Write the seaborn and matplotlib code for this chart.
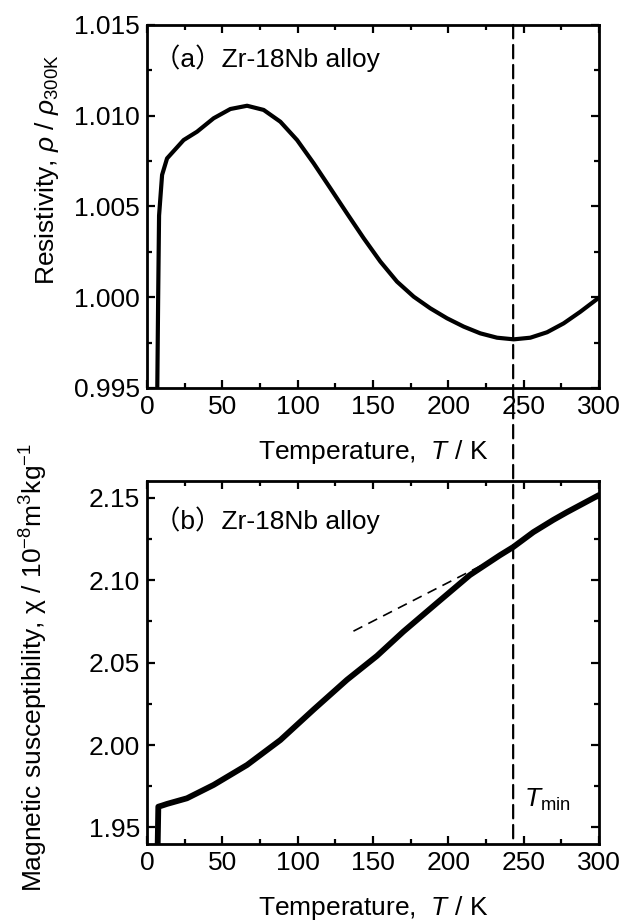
"""
Zr-18Nb alloy: resistivity and magnetic susceptibility vs temperature.
Two stacked panels sharing the T_min marker.
"""

import numpy as np
import pandas as pd
import matplotlib
matplotlib.use("Agg")
import matplotlib.pyplot as plt
from matplotlib.patches import ConnectionPatch
import seaborn as sns

# ==============================================================================
# DATA
# ==============================================================================

# (a) normalised resistivity
temp_a = [6.7, 7.4, 8.0, 10.0, 13.3, 24.3, 33.2, 44.2, 55.3, 66.4, 77.4, 88.5,
          99.6, 110.6, 121.7, 132.7, 143.8, 154.9, 165.9, 177.0, 188.0, 199.1,
          210.2, 221.2, 232.3, 243.4, 254.4, 265.5, 276.5, 287.6, 300.0]
rho_a = [0.994, 1.0000, 1.0045, 1.00674, 1.00765, 1.00866, 1.00912, 1.00986,
         1.01037, 1.01055, 1.01032, 1.00967, 1.00866, 1.00738, 1.00600, 1.00462,
         1.00325, 1.00196, 1.00086, 1.00003, 0.99939, 0.99884, 0.99838, 0.99801,
         0.99777, 0.99768, 0.99777, 0.99807, 0.99856, 0.99920, 0.99998]

# (b) magnetic susceptibility (1e-8 m^3/kg)
temp_b = [7.0, 7.5, 10.0, 13.3, 26.5, 44.2, 66.4, 88.5, 110.6, 132.7, 152.6,
          170.1, 192.2, 214.3, 234.2, 243.1, 256.4, 269.6, 278.5, 300.0]
chi_b = [1.935, 1.9626, 1.9633, 1.9643, 1.9677, 1.9758, 1.9879, 2.0030, 2.0215,
         2.0395, 2.0540, 2.0687, 2.0859, 2.1030, 2.1150, 2.1200, 2.1290, 2.1364,
         2.1410, 2.1515]

# high-temperature tangent in (b)
tangent_t = [137.0, 232.0]
tangent_chi = [2.069, 2.1135]

T_MIN = 243.0

# ==============================================================================
# STYLE
# ==============================================================================

sns.set_theme(style="ticks")
plt.rcParams['font.family'] = ['Liberation Sans', 'Noto Sans CJK JP']
plt.rcParams['mathtext.fontset'] = 'custom'
plt.rcParams['mathtext.rm'] = 'Liberation Sans'
plt.rcParams['mathtext.it'] = 'Liberation Sans:italic'
plt.rcParams['mathtext.bf'] = 'Liberation Sans:bold'
plt.rcParams['text.color'] = 'black'
plt.rcParams['axes.labelcolor'] = 'black'
FS = 19


def style_axes(ax, ylim, ymajor, yminor):
    ax.set_xlim(0, 300)
    ax.set_ylim(*ylim)
    ax.set_xticks(np.arange(0, 301, 50))
    ax.set_xticks(np.arange(25, 300, 50), minor=True)
    ax.set_yticks(ymajor)
    ax.set_yticks(yminor, minor=True)
    for s in ax.spines.values():
        s.set_visible(True)
        s.set_linewidth(2.0)
        s.set_color('black')
    ax.tick_params(which='both', direction='in', top=True, right=True,
                   width=1.6, colors='black', labelsize=FS, pad=5)
    ax.tick_params(which='major', length=6)
    ax.tick_params(which='minor', length=3.5)
    ax.set_xlabel(r'Temperature,  $T$ / K', fontsize=FS, labelpad=14)


fig = plt.figure(figsize=(6.24, 9.22), dpi=100)
ax1 = fig.add_axes([0.2356, 0.5792, 0.7244, 0.3937])
ax2 = fig.add_axes([0.2356, 0.0846, 0.7244, 0.3937])

# (a) resistivity
df_a = pd.DataFrame({'T': temp_a, 'rho': rho_a})
sns.lineplot(data=df_a, x='T', y='rho', ax=ax1, color='black', lw=3.0,
             estimator=None, sort=False)
style_axes(ax1, (0.995, 1.015),
           [0.995, 1.000, 1.005, 1.010, 1.015],
           [0.9975, 1.0025, 1.0075, 1.0125])
ax1.yaxis.set_major_formatter(matplotlib.ticker.FormatStrFormatter('%.3f'))
ax1.set_ylabel(r'Resistivity, $\rho$ / $\rho_{\mathrm{300K}}$', fontsize=FS)
ax1.yaxis.set_label_coords(-0.19, 0.6)
ax1.text(0.015, 0.909, '（a）Zr-18Nb alloy', transform=ax1.transAxes,
         fontsize=FS, va='center', ha='left')

# (b) susceptibility
df_b = pd.DataFrame({'T': temp_b, 'chi': chi_b})
sns.lineplot(data=df_b, x='T', y='chi', ax=ax2, color='black', lw=4.2,
             estimator=None, sort=False)
ax2.plot(tangent_t, tangent_chi, color='black', lw=1.2, linestyle=(0, (6, 4)))
style_axes(ax2, (1.94, 2.16),
           [1.95, 2.00, 2.05, 2.10, 2.15],
           [1.975, 2.025, 2.075, 2.125])
ax2.yaxis.set_major_formatter(matplotlib.ticker.FormatStrFormatter('%.2f'))
ax2.set_ylabel('Magnetic susceptibility, χ / 10$^{-8}$m$^{3}$kg$^{-1}$', fontsize=FS)
ax2.yaxis.set_label_coords(-0.215, 0.486)
ax2.text(0.015, 0.893, '（b）Zr-18Nb alloy', transform=ax2.transAxes,
         fontsize=FS, va='center', ha='left')
ax2.text(T_MIN + 7, 1.967, r'$T_{\mathrm{min}}$', fontsize=FS, va='center', ha='left')

# T_min marker running through both panels
con = ConnectionPatch(xyA=(T_MIN, 1.015), coordsA=ax1.transData,
                      xyB=(T_MIN, 1.94), coordsB=ax2.transData,
                      color='black', lw=1.6, linestyle=(0, (6, 3)))
fig.add_artist(con)

fig.savefig('out.png', dpi=100)
